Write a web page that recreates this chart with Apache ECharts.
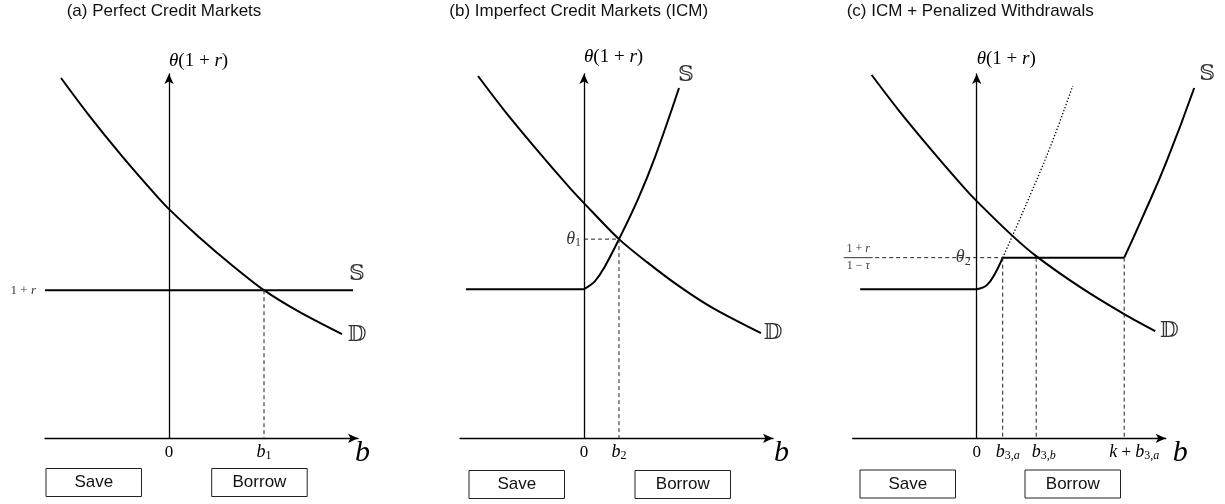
<!DOCTYPE html>
<html>
<head>
<meta charset="utf-8" />
<title>Credit markets</title>
<script src="https://cdn.jsdelivr.net/npm/echarts@6/dist/echarts.min.js"></script>
</head>
<body style="margin:0;">
<div id="main" style="width:1225px;height:504px;"></div>
<script>
// panel (a) perfect credit markets
var demandA = [[-10.8,36.0],[-8.1,32.4],[-4.7,28.2],[-1.4,24.4],[0,22.9],[2.9,20.2],[6.3,17.3],[9.5,14.8],[12.9,12.7],[17.3,10.4]];
var supplyA = [[-12.4,14.8],[18.4,14.8]];
var b1 = 9.5, rA = 14.8;

// panel (b) imperfect credit markets
var demandB = [[-10.6,36.2],[-8.0,32.8],[-4.6,28.7],[-1.4,25.0],[0,23.5],[3.5,19.9],[6.3,17.6],[9.5,15.2],[12.9,13.0],[17.7,10.5]];
var flatB = [[-11.8,14.9],[0,14.9]];
var curveB = [[0,14.9],[1.1,15.7],[2.1,17.2],[3.5,19.9],[5.4,23.9],[7.1,28.1],[9.5,35.0]];
var theta1 = 19.9, b2 = 3.5;

// panel (c) ICM + penalized withdrawals
var demandC = [[-10.5,36.3],[-7.9,32.9],[-4.6,28.9],[-1.4,25.2],[0,23.7],[3.5,20.3],[5.95,18.2],[10.35,15.1],[14.75,12.4],[17.85,10.7]];
var flatC1 = [[-11.65,14.9],[0,14.9]];
var curveC1 = [[0,14.9],[1.0,15.3],[1.85,16.5],[2.6,18.05]];
var flatC2 = [[2.6,18.05],[14.75,18.05]];
var curveC2 = [[14.75,18.05],[16.5,21.9],[19.0,27.7],[21.75,35.0]];
var dottedC = [[2.6,18.05],[4.7,22.8],[7.35,29.1],[9.6,35.2]];
var theta2 = 18.05, b3a = 2.6, b3b = 5.95, kb3a = 14.75, fracStart = -10.15;

var titles = ['(a) Perfect Credit Markets', '(b) Imperfect Credit Markets (ICM)', '(c) ICM + Penalized Withdrawals'];
var boxLabels = ['Save', 'Borrow'];

var SERIF = "'Liberation Serif', 'Times New Roman', serif";
var SANS = "'Liberation Sans', Arial, sans-serif";
var DBL = "'DejaVu Serif', 'DejaVu Sans', serif";

var rich = {
  n: {fontFamily: SERIF, fontSize: 17, lineHeight: 20, color: '#000'},
  yn: {fontFamily: SERIF, fontSize: 19, lineHeight: 22, color: '#000'},
  yi: {fontFamily: SERIF, fontSize: 19, fontStyle: 'italic', lineHeight: 22, color: '#000'},
  i: {fontFamily: SERIF, fontSize: 18, fontStyle: 'italic', lineHeight: 20, color: '#000'},
  i10: {fontFamily: SERIF, fontSize: 18, fontStyle: 'italic', lineHeight: 20, color: '#000', padding: [0, 0, 0, 10]},
  i15: {fontFamily: SERIF, fontSize: 18, fontStyle: 'italic', lineHeight: 20, color: '#000', padding: [0, 0, 0, 15]},
  i20: {fontFamily: SERIF, fontSize: 18, fontStyle: 'italic', lineHeight: 20, color: '#000', padding: [0, 0, 0, 20]},
  s: {fontFamily: SERIF, fontSize: 12, lineHeight: 12, verticalAlign: 'bottom', color: '#000'},
  si: {fontFamily: SERIF, fontSize: 12, fontStyle: 'italic', lineHeight: 12, verticalAlign: 'bottom', color: '#000'},
  big: {fontFamily: SERIF, fontSize: 30, fontStyle: 'italic', lineHeight: 30, color: '#000'},
  dbl: {fontFamily: DBL, fontSize: 22, color: '#000'},
  sm: {fontFamily: SERIF, fontSize: 13, color: '#000'},
  smi: {fontFamily: SERIF, fontSize: 13, fontStyle: 'italic', color: '#000'},
  fn: {fontFamily: SERIF, fontSize: 12, lineHeight: 13, color: '#000'},
  fi: {fontFamily: SERIF, fontSize: 12, fontStyle: 'italic', lineHeight: 13, color: '#000'},
  bar: {width: 29, height: 1, lineHeight: 4, fontSize: 1, backgroundColor: '#000'}
};

var gridLeft = [45, 460, 852.7];
var nameGapX = [-3, 1, 7];
var nameGapY = [2, 6, 4];
var titleLeft = [66.7, 449.3, 846.7];
var boxX = [[46, 211.7], [469, 635], [860, 1025]];
var boxY = [468.5, 470.5, 470];

var xTicks = [[0, b1], [0, b2], [0, b3a, b3b, kb3a]];
var xNames = [
  ['{n|0}', '{i|b}{s|1}'],
  ['{n|0}', '{i|b}{s|2}'],
  ['{n|0}', '{i10|b}{s|3,}{si|a}', '{i15|b}{s|3,}{si|b}', '{i20|k}{n| + }{i|b}{s|3,}{si|a}']
];

var axisLine = {onZero: true, symbol: ['none', 'arrow'], symbolSize: [7, 10], lineStyle: {color: '#000', width: 1.3}};

var grids = [], xAxes = [], yAxes = [];
for (var k = 0; k < 3; k++) {
  grids.push({left: gridLeft[k], top: 74, width: 313, height: 364.3});
  (function (k) {
    xAxes.push({
      gridIndex: k, type: 'value', min: -12.4, max: 18.9,
      axisLine: axisLine, axisTick: {show: false}, splitLine: {show: false},
      axisLabel: {
        customValues: xTicks[k], margin: 4, color: '#000', rich: rich,
        formatter: function (v) {
          var best = 0;
          for (var j = 0; j < xTicks[k].length; j++) {
            if (Math.abs(xTicks[k][j] - v) < Math.abs(xTicks[k][best] - v)) best = j;
          }
          return xNames[k][best];
        }
      },
      name: '{big|b}', nameLocation: 'end', nameGap: nameGapX[k],
      nameTextStyle: {verticalAlign: 'top', rich: rich}
    });
    yAxes.push({
      gridIndex: k, type: 'value', min: 0, max: 36.4,
      axisLine: axisLine, axisTick: {show: false}, splitLine: {show: false},
      axisLabel: {show: false},
      name: '{yi|θ}{yn|(1 + }{yi|r}{yn|)}', nameLocation: 'end', nameGap: nameGapY[k],
      nameTextStyle: {align: 'left', rich: rich}
    });
  })(k);
}
// wider hidden overlay on panel (c), same scale, so the right supply branch can run past the b arrow
grids.push({left: 852.7, top: 74, width: 344, height: 364.3});
xAxes.push({gridIndex: 3, type: 'value', min: -12.4, max: 22.0, show: false});
yAxes.push({gridIndex: 3, type: 'value', min: 0, max: 36.4, show: false});

function curve(k, data, smooth, style) {
  return {
    type: 'line', xAxisIndex: k, yAxisIndex: k, data: data, smooth: smooth,
    symbol: 'none', clip: false, silent: true,
    lineStyle: style || {color: '#000', width: 2}
  };
}
var dash = {color: '#222', width: 1, type: [4, 3]};
var dots = {color: '#000', width: 1.3, type: [1.3, 2]};

function notes(k, items) {
  return {
    type: 'scatter', xAxisIndex: k, yAxisIndex: k, symbolSize: 0, silent: true, clip: false,
    itemStyle: {color: '#000'},
    label: {
      show: true, position: 'inside', color: '#000', textBorderWidth: 0, rich: rich,
      formatter: function (p) { return p.data.txt; }
    },
    data: items.map(function (it) {
      return {value: it[0], txt: it[1], label: {offset: it[2], align: it[3] || 'center', verticalAlign: 'middle'}};
    })
  };
}

var series = [
  curve(0, demandA, 0.3),
  curve(0, supplyA, false),
  curve(0, [[b1, rA], [b1, 0]], false, dash),
  notes(0, [
    [supplyA[supplyA.length - 1], '{dbl|𝕊}', [4, -16]],
    [demandA[demandA.length - 1], '{dbl|𝔻}', [15, 1]],
    [supplyA[0], '{sm|1 + }{smi|r}', [-9, 0], 'right']
  ]),

  curve(1, demandB, 0.3),
  curve(1, flatB, false),
  curve(1, curveB, 0.4),
  curve(1, [[0, theta1], [b2, theta1], [b2, 0]], false, dash),
  notes(1, [
    [curveB[curveB.length - 1], '{dbl|𝕊}', [7, -13]],
    [demandB[demandB.length - 1], '{dbl|𝔻}', [12, 0]],
    [[0, theta1], '{i|θ}{s|1}', [-3, 0], 'right']
  ]),

  curve(2, demandC, 0.3),
  curve(2, flatC1, false),
  curve(2, curveC1, 0.4),
  curve(2, flatC2, false),
  curve(3, curveC2, 0.5),
  curve(2, dottedC, 0.4, dots),
  curve(2, [[fracStart, theta2], [b3a, theta2]], false, dash),
  curve(2, [[b3a, theta2], [b3a, 0]], false, dash),
  curve(2, [[b3b, theta2], [b3b, 0]], false, dash),
  curve(2, [[kb3a, theta2], [kb3a, 0]], false, dash),
  notes(2, [
    [demandC[demandC.length - 1], '{dbl|𝔻}', [14, 0]],
    [[0, theta2], '{i|θ}{s|2}', [-6, 0], 'right'],
    [[fracStart, theta2], '{fn|1 + }{fi|r}\n{bar| }\n{fn|1 − }{fi|τ}', [-17, 0]]
  ]),
  notes(3, [
    [curveC2[curveC2.length - 1], '{dbl|𝕊}', [13, -14]]
  ])
];

var graphic = [];
for (var g = 0; g < 3; g++) {
  for (var m = 0; m < 2; m++) {
    graphic.push({
      type: 'rect', shape: {x: boxX[g][m], y: boxY[g], width: 95.5, height: 28},
      style: {fill: '#fff', stroke: '#222', lineWidth: 1}
    });
    graphic.push({
      type: 'text', x: boxX[g][m] + 47.75, y: boxY[g] + 14,
      style: {text: boxLabels[m], font: '17px ' + SANS, fill: '#111', textAlign: 'center', textVerticalAlign: 'middle'}
    });
  }
}

var myChart = echarts.init(document.getElementById('main'), null, {renderer: 'canvas'});
myChart.setOption({
  animation: false,
  backgroundColor: '#fff',
  title: titles.map(function (t, i) {
    return {text: t, left: titleLeft[i], top: 3, padding: 0,
      textStyle: {fontFamily: SANS, fontSize: 17, fontWeight: 'normal', color: '#111'}};
  }),
  grid: grids,
  xAxis: xAxes,
  yAxis: yAxes,
  series: series,
  graphic: graphic
});
window.addEventListener('resize', myChart.resize);
</script>
</body>
</html>
